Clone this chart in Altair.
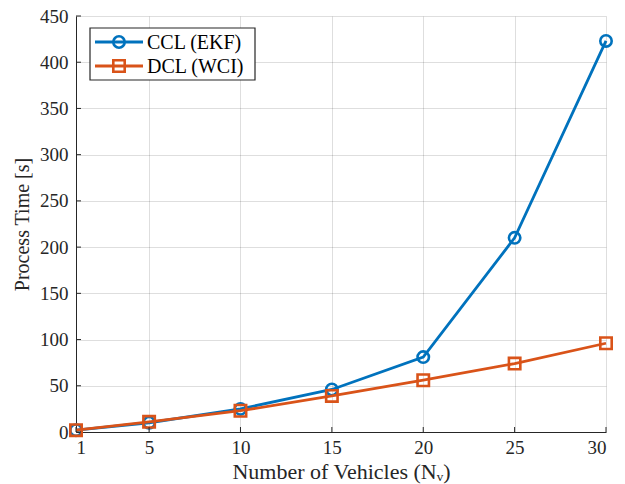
import altair as alt
import pandas as pd

vehicles = [1, 5, 10, 15, 20, 25, 30]
ccl_ekf = [2, 10, 25, 46, 81, 210, 423]
dcl_wci = [2, 11, 23, 39, 56, 74, 96]
series_names = ["CCL (EKF)", "DCL (WCI)"]
series_colors = ["#0072BD", "#D95319"]
series_shapes = ["circle", "square"]
x_ticks = [1, 5, 10, 15, 20, 25, 30]
y_ticks = [0, 50, 100, 150, 200, 250, 300, 350, 400, 450]

W, H = 530, 416
FONT = "'Liberation Serif', 'Times New Roman', serif"
AX = "#262626"

xs = alt.Scale(domain=[1, 30], nice=False, zero=False)
ys = alt.Scale(domain=[0, 450], nice=False)

common = dict(grid=True, ticks=False, labelFont=FONT, titleFont=FONT, labelColor=AX,
              titleColor=AX, domainColor=AX, domainWidth=1, gridColor="#000000",
              gridOpacity=0.13, gridWidth=1, labelFontSize=19, titleFontWeight="normal")
xax = alt.Axis(values=x_ticks, title="Number of Vehicles (Nᵥ)", labelPadding=6,
               titlePadding=4, titleFontSize=22, **common)
yax = alt.Axis(values=y_ticks, title="Process Time [s]", labelPadding=8,
               titlePadding=7, titleFontSize=20, **common)

layers = []
for name, col, shp, vals in zip(series_names, series_colors, series_shapes, [ccl_ekf, dcl_wci]):
    d = pd.DataFrame({"N": vehicles, "t": vals})
    enc = dict(x=alt.X("N:Q", scale=xs, axis=xax), y=alt.Y("t:Q", scale=ys, axis=yax))
    line = alt.Chart(d).mark_line(color=col, strokeWidth=2.8).encode(**enc)
    pts = alt.Chart(d).mark_point(shape=shp, color=col, filled=False, strokeWidth=2.6,
                                  size=130, opacity=1).encode(**enc)
    layers += [line, pts]

# inward ticks
xt = alt.Chart(pd.DataFrame({"v": x_ticks})).mark_rule(color=AX, strokeWidth=1).encode(
    x=alt.X("v:Q", scale=xs, axis=xax), y=alt.value(H), y2=alt.value(H - 5))
yt = alt.Chart(pd.DataFrame({"v": y_ticks})).mark_rule(color=AX, strokeWidth=1).encode(
    y=alt.Y("v:Q", scale=ys, axis=yax), x=alt.value(0), x2=alt.value(5))
layers += [xt, yt]

# legend
one = pd.DataFrame({"a": [0]})
lx0, lx1, ly0, ly1 = 90 - 76, 255 - 76, 28 - 16, 80 - 16
box = alt.Chart(one).mark_rect(fill="white", stroke=AX, strokeWidth=1.2).encode(
    x=alt.value(lx0), x2=alt.value(lx1), y=alt.value(ly0), y2=alt.value(ly1))
layers.append(box)
for i, (name, col, shp) in enumerate(zip(series_names, series_colors, series_shapes)):
    yy = 42 - 16 + i * 24
    layers.append(alt.Chart(one).mark_rule(color=col, strokeWidth=2.8).encode(
        x=alt.value(95 - 76), x2=alt.value(143 - 76), y=alt.value(yy)))
    layers.append(alt.Chart(one).mark_point(shape=shp, color=col, filled=False, strokeWidth=2.6,
                                            size=130, opacity=1).encode(
        x=alt.value(119 - 76), y=alt.value(yy)))
    layers.append(alt.Chart(one).mark_text(text=name, align="left", baseline="middle",
                                           font=FONT, fontSize=20, color="black").encode(
        x=alt.value(147 - 76), y=alt.value(yy + 1)))

chart = alt.layer(*layers).properties(
    width=W, height=H,
    autosize=alt.AutoSizeParams(type="none"),
    padding={"left": 76, "top": 16, "right": 19, "bottom": 52},
).configure(font=FONT).configure_view(stroke=None)

chart.save("out.html", embed_options={"renderer": "svg", "actions": False})
